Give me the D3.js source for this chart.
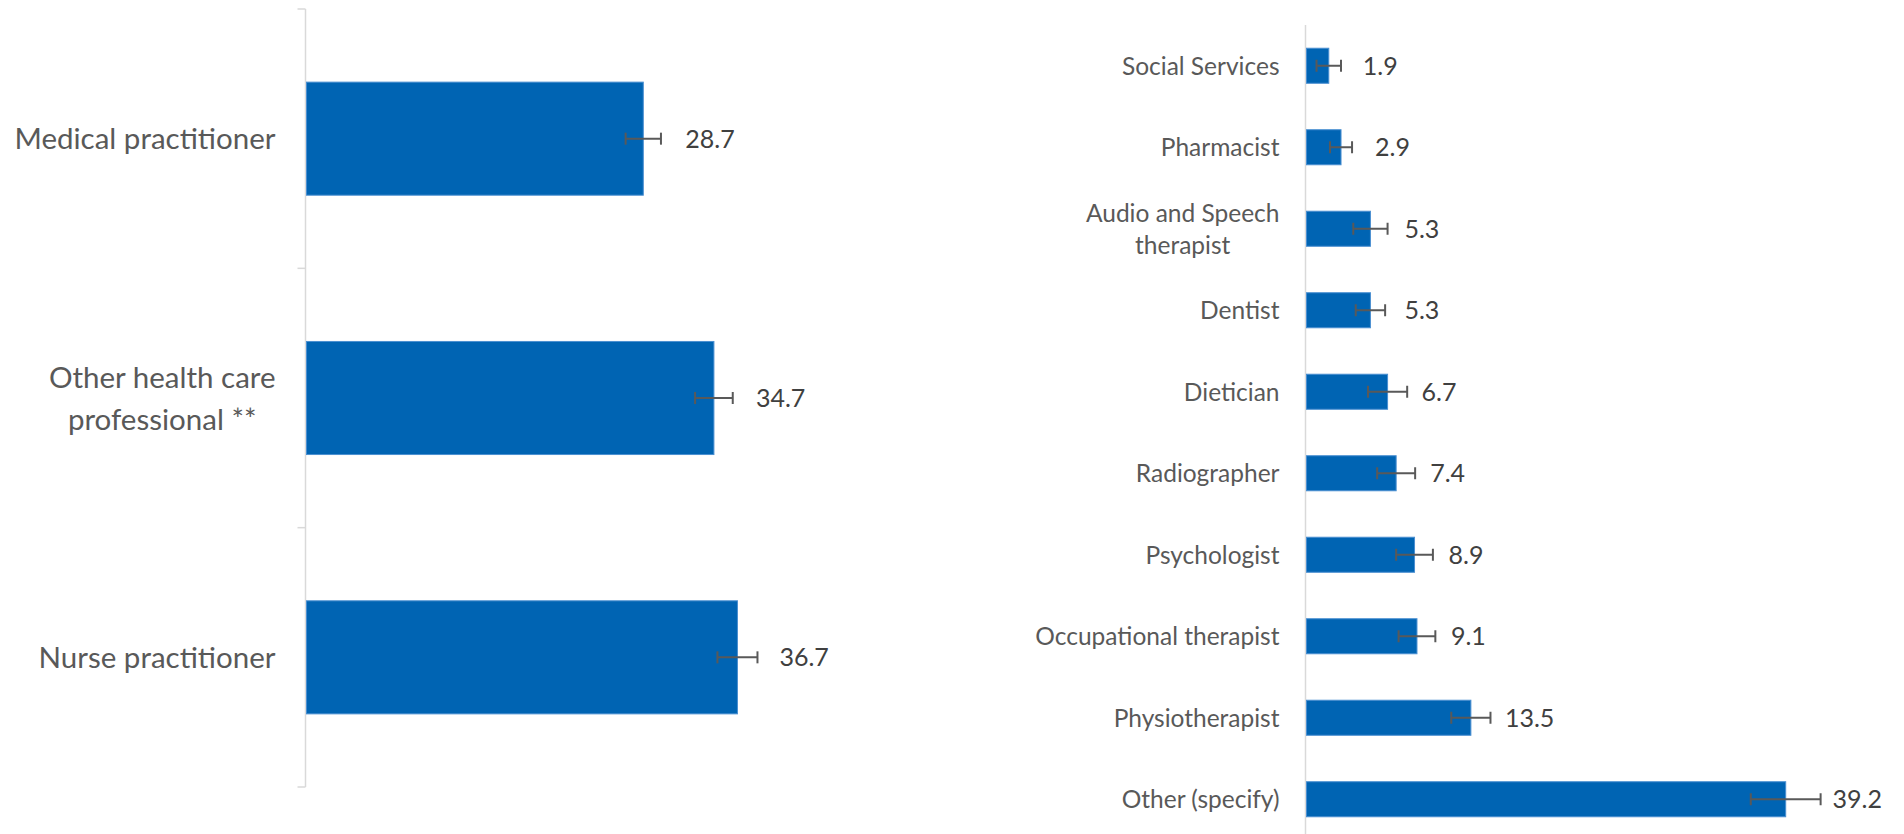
<!DOCTYPE html>
<html>
<head>
<meta charset="utf-8">
<script src="https://cdn.jsdelivr.net/npm/d3@7"></script>
<style>
  html, body { margin: 0; padding: 0; background: #fff; }
  svg { display: block; }
  text { font-family: Lato, "Open Sans", sans-serif; }
</style>
</head>
<body>
<svg id="chart" width="1904" height="834"></svg>
<script>
// ---- Data ----
const leftCategories = ["Medical practitioner", "Other health care\nprofessional **", "Nurse practitioner"];
const leftValues = [28.7, 34.7, 36.7];
const leftErrors = [1.5, 1.6, 1.7];

const rightCategories = ["Social Services", "Pharmacist", "Audio and Speech\ntherapist", "Dentist", "Dietician",
  "Radiographer", "Psychologist", "Occupational therapist", "Physiotherapist", "Other (specify)"];
const rightValues = [1.9, 2.9, 5.3, 5.3, 6.7, 7.4, 8.9, 9.1, 13.5, 39.2];
const rightErrors = [1.0, 0.9, 1.4, 1.2, 1.6, 1.55, 1.5, 1.5, 1.6, 2.85];

const svg = d3.select("#chart");
const BAR = "#0064b3", BAR_EDGE = "#4a8fd1", AXIS = "#d9d9d9", ERR = "#595959";
const CAT_COLOR = "#595959", VAL_COLOR = "#404040";

function drawPanel(opts) {
  const { cats, vals, errs, x0, pxPerUnit, xMax, yRange, padIn, padOut, ticks, axisEnd,
          labelGap, catSize, valSize, lineH, valOffBar, valOffErr } = opts;
  const x = d3.scaleLinear().domain([0, xMax]).range([x0, x0 + pxPerUnit * xMax]);
  const y = d3.scaleBand().domain(cats).range(yRange).paddingInner(padIn).paddingOuter(padOut);
  const g = svg.append("g");

  // axis line
  const axisG = g.append("g").attr("transform", `translate(${x0},0)`);
  const yAxis = d3.axisLeft(y).tickSize(0).tickFormat("");
  axisG.call(yAxis);
  axisG.select(".domain").remove();
  axisG.append("line").attr("x1", 0).attr("x2", 0).attr("y1", yRange[0]).attr("y2", axisEnd)
    .attr("stroke", AXIS).attr("stroke-width", 1.5);
  if (ticks) {
    const bounds = d3.range(cats.length + 1).map(i => yRange[0] + i * y.step());
    axisG.selectAll("line.tk").data(bounds).join("line").attr("class", "tk")
      .attr("x1", -8).attr("x2", 0).attr("y1", d => d).attr("y2", d => d)
      .attr("stroke", AXIS).attr("stroke-width", 1.5);
  }

  // bars
  g.selectAll("rect.bar").data(cats).join("rect").attr("class", "bar")
    .attr("x", x(0) + 1)
    .attr("y", d => y(d))
    .attr("width", (d, i) => x(vals[i]) - x(0) - 1)
    .attr("height", y.bandwidth())
    .attr("fill", BAR).attr("stroke", BAR_EDGE).attr("stroke-width", 1);

  // error bars
  const eg = g.selectAll("g.err").data(cats).join("g").attr("class", "err")
    .attr("transform", d => `translate(0,${y(d) + y.bandwidth() / 2})`);
  eg.append("line").attr("x1", (d, i) => x(vals[i] - errs[i])).attr("x2", (d, i) => x(vals[i] + errs[i]))
    .attr("y1", 0).attr("y2", 0).attr("stroke", ERR).attr("stroke-width", 2);
  eg.append("line").attr("x1", (d, i) => x(vals[i] - errs[i])).attr("x2", (d, i) => x(vals[i] - errs[i]))
    .attr("y1", -6).attr("y2", 6).attr("stroke", ERR).attr("stroke-width", 2);
  eg.append("line").attr("x1", (d, i) => x(vals[i] + errs[i])).attr("x2", (d, i) => x(vals[i] + errs[i]))
    .attr("y1", -6).attr("y2", 6).attr("stroke", ERR).attr("stroke-width", 2);

  // value labels
  g.selectAll("text.val").data(cats).join("text").attr("class", "val")
    .attr("x", (d, i) => Math.max(x(vals[i]) + valOffBar, x(vals[i] + errs[i]) + valOffErr))
    .attr("y", d => y(d) + y.bandwidth() / 2)
    .attr("dy", "0.36em")
    .attr("fill", VAL_COLOR).attr("font-size", valSize)
    .text((d, i) => vals[i].toFixed(1));

  // category labels (multi-line, centered block, right aligned)
  const right = x0 - labelGap;
  cats.forEach(c => {
    const lines = c.split("\n");
    const cy = y(c) + y.bandwidth() / 2;
    const t = g.append("text").attr("fill", CAT_COLOR).attr("font-size", catSize);
    const spans = lines.map((ln, k) => t.append("tspan")
      .attr("y", cy + (k - (lines.length - 1) / 2) * lineH).attr("dy", "0.36em").text(ln));
    const widths = spans.map(s => s.node().getComputedTextLength());
    const maxW = d3.max(widths);
    if (lines.length === 1) {
      t.attr("text-anchor", "end");
      spans[0].attr("x", right);
    } else {
      t.attr("text-anchor", "middle");
      spans.forEach(s => s.attr("x", right - maxW / 2));
    }
  });
}

drawPanel({
  cats: leftCategories, vals: leftValues, errs: leftErrors,
  x0: 305.5, pxPerUnit: 11.77, xMax: 40, yRange: [9, 787], padIn: 0.564, padOut: 0.282,
  ticks: true, axisEnd: 787, labelGap: 30, catSize: 29.5, valSize: 25, lineH: 42,
  valOffBar: 42, valOffErr: 12
});

drawPanel({
  cats: rightCategories, vals: rightValues, errs: rightErrors,
  x0: 1305.5, pxPerUnit: 12.25, xMax: 45, yRange: [25, 840], padIn: 0.57, padOut: 0.285,
  ticks: false, axisEnd: 840, labelGap: 26, catSize: 24.5, valSize: 25, lineH: 32,
  valOffBar: 34, valOffErr: 12
});
</script>
</body>
</html>
